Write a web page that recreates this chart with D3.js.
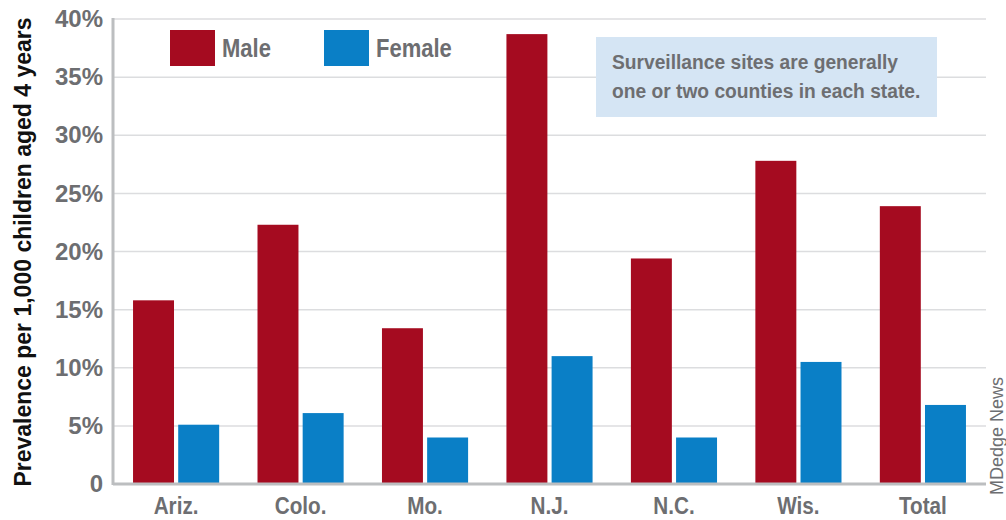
<!DOCTYPE html>
<html><head><meta charset="utf-8">
<script src="https://cdn.jsdelivr.net/npm/d3@7"></script>
<style>
body{margin:0;background:#fff;}
svg text{font-family:"Liberation Sans Narrow","Arial Narrow",sans-serif;}
</style></head>
<body><svg id="c" width="1006" height="520"></svg>
<script>
const categories = ["Ariz.","Colo.","Mo.","N.J.","N.C.","Wis.","Total"];
const male = [15.8,22.3,13.4,38.7,19.4,27.8,23.9];
const female = [5.1,6.1,4.0,11.0,4.0,10.5,6.8];
const seriesNames = ["Male","Female"];
const yTicks = [0,5,10,15,20,25,30,35,40];
const yTitle = "Prevalence per 1,000 children aged 4 years";
const note = ["Surveillance sites are generally","one or two counties in each state."];
const credit = "MDedge News";

const colors = ["#a50b20","#0a7fc6"];
const textGray = "#6d6e71";
const svg = d3.select("#c");
const L=113,R=986,T=19,B=484;
const x = d3.scaleBand().domain(categories).range([L,R]).paddingInner(0.308).paddingOuter(0.161);
const xs = d3.scaleBand().domain(seriesNames).range([0,x.bandwidth()]).paddingInner(0.093);
const y = d3.scaleLinear().domain([0,40]).range([B,T]);

// grid
svg.append("g").selectAll("line").data(yTicks.filter(d=>d>0)).join("line")
  .attr("x1",L).attr("x2",R).attr("y1",d=>y(d)).attr("y2",d=>y(d))
  .attr("stroke","#dcdddf").attr("stroke-width",1.5);

// y axis labels
const yAxis = d3.axisLeft(y).tickValues(yTicks).tickSize(0).tickPadding(10)
  .tickFormat(d=>d===0?"0":d+"%");
const ga = svg.append("g").attr("transform",`translate(${L},0)`).call(yAxis);
ga.select(".domain").remove();
ga.selectAll("text").attr("fill",textGray).attr("font-size",24).attr("font-weight","bold")
  .attr("font-family","'Liberation Sans Narrow',sans-serif");

// bars
const data = categories.map((c,i)=>({c, vals:[male[i],female[i]]}));
const groups = svg.append("g").selectAll("g").data(data).join("g")
  .attr("transform",d=>`translate(${x(d.c)},0)`);
groups.selectAll("rect").data(d=>d.vals.map((v,j)=>({v,s:seriesNames[j],j}))).join("rect")
  .attr("x",d=>xs(d.s)).attr("width",xs.bandwidth())
  .attr("y",d=>y(d.v)).attr("height",d=>B-y(d.v))
  .attr("fill",d=>colors[d.j]);

// axes lines
svg.append("line").attr("x1",L).attr("x2",L).attr("y1",T-1).attr("y2",B+1).attr("stroke","#bcbec0").attr("stroke-width",3);
svg.append("line").attr("x1",L).attr("x2",R).attr("y1",B).attr("y2",B).attr("stroke","#bcbec0").attr("stroke-width",3);

// x labels
const xAxis = d3.axisBottom(x).tickSize(0).tickPadding(14);
const gx = svg.append("g").attr("transform",`translate(0,${B})`).call(xAxis);
gx.select(".domain").remove();
gx.selectAll("text").attr("fill",textGray).attr("font-size",23).attr("font-weight","bold")
  .attr("font-family","'Liberation Sans Narrow',sans-serif")
  .attr("transform","scale(0.9,1)");

// y title
svg.append("text").attr("transform","translate(31,252) rotate(-90)")
  .attr("text-anchor","middle").attr("font-size",23).attr("font-weight","bold").attr("fill","#111")
  .text(yTitle);

// legend
const leg = [{x:170,name:"Male",c:colors[0]},{x:324,name:"Female",c:colors[1]}];
const lg = svg.append("g").selectAll("g").data(leg).join("g");
lg.append("rect").attr("x",d=>d.x).attr("y",30).attr("width",45).attr("height",36).attr("fill",d=>d.c);
lg.append("text").attr("transform",d=>`translate(${d.x+52},57) scale(0.88,1)`)
  .attr("font-size",25).attr("font-weight","bold")
  .attr("fill",textGray).text(d=>d.name);

// note box
svg.append("rect").attr("x",596).attr("y",37).attr("width",341).attr("height",80).attr("fill","#d5e5f4");
svg.append("g").selectAll("text").data(note).join("text")
  .attr("transform",(d,i)=>`translate(612,${69+i*29}) scale(0.915,1)`)
  .attr("font-size",21).attr("font-weight","bold")
  .attr("fill",textGray).text(d=>d);

// credit
svg.append("text").attr("transform","translate(1003,495) rotate(-90)")
  .attr("font-size",18).attr("fill",textGray).text(credit);
</script></body></html>
